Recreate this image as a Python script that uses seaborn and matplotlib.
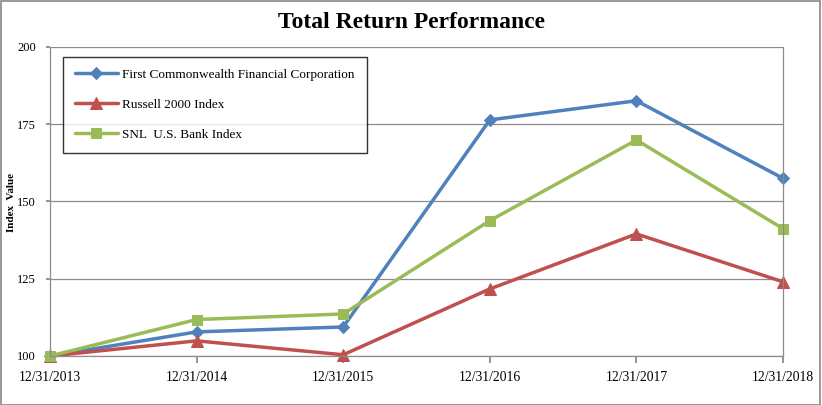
import matplotlib
matplotlib.use("Agg")
import matplotlib.pyplot as plt
import seaborn as sns
import pandas as pd
from matplotlib.patches import Rectangle

dates = ["12/31/2013", "12/31/2014", "12/31/2015", "12/31/2016", "12/31/2017", "12/31/2018"]
fcf = [100.0, 107.8, 109.4, 176.4, 182.6, 157.5]
russell = [100.0, 104.9, 100.4, 121.7, 139.5, 124.0]
snl = [100.0, 111.8, 113.6, 143.8, 169.9, 141.2]
series_names = ["First Commonwealth Financial Corporation", "Russell 2000 Index", "SNL  U.S. Bank Index"]
colors = ["#4F81BD", "#C0504D", "#9BBB59"]
markers = ["D", "^", "s"]
msizes = [6, 8, 7]
yticks = [100, 125, 150, 175, 200]

sns.set_theme(style="white")
plt.rcParams["font.family"] = ["Liberation Serif", "DejaVu Serif"]
plt.rcParams["text.color"] = "black"
plt.rcParams["xtick.color"] = "black"
plt.rcParams["ytick.color"] = "black"
plt.rcParams["axes.labelcolor"] = "black"

rows = []
for name, vals in zip(series_names, [fcf, russell, snl]):
    for i, v in enumerate(vals):
        rows.append({"x": i, "value": v, "series": name})
df = pd.DataFrame(rows)

fig = plt.figure(figsize=(8.22, 4.05), dpi=100)
fig.patch.set_facecolor("white")
fig.add_artist(Rectangle((0.001, 0.001), 0.997, 0.996, transform=fig.transFigure,
                         fill=False, edgecolor="#888888", linewidth=1.2))
ax = fig.add_axes([0.0608, 0.121, 0.8918, 0.763])

for name, c, m, ms in zip(series_names, colors, markers, msizes):
    sub = df[df["series"] == name]
    sns.lineplot(data=sub, x="x", y="value", ax=ax, color=c, marker=m, markersize=ms,
                 markeredgecolor=c, linewidth=2.5, label=name, legend=False)

ax.set_xlim(0, 5)
ax.set_ylim(100, 200)
ax.set_yticks(yticks)
ax.set_yticklabels([str(t) for t in yticks], fontsize=9)
ax.set_xticks(range(len(dates)))
ax.set_xticklabels(dates, fontsize=9.8)
ax.tick_params(axis="x", direction="out", length=5, color="#888888", pad=6, bottom=True)
ax.tick_params(axis="y", direction="out", length=3, color="#888888", pad=7, left=True)
ax.grid(axis="y", color="#8c8c8c", linewidth=0.9)
ax.set_axisbelow(True)
for s in ["left", "bottom", "right", "top"]:
    ax.spines[s].set_color("#8c8c8c")
    ax.spines[s].set_linewidth(0.9)
ax.spines["top"].set_visible(False)
for line in ax.get_lines():
    line.set_clip_on(False)

ax.set_xlabel("")
ax.set_ylabel("")
fig.text(12 / 822, 0.5, "Index  Value", rotation=90, ha="center", va="center",
         fontsize=8, fontweight="bold")
fig.text(0.5, 0.945, "Total Return Performance", ha="center", va="center",
         fontsize=17, fontweight="bold")

leg = ax.legend(loc="upper left", bbox_to_anchor=(0.0175, 0.968), frameon=True,
                fontsize=9.5, labelspacing=1.35, handlelength=3.3, borderpad=0.9,
                borderaxespad=0, fancybox=False, handletextpad=0.3)
leg.get_frame().set_edgecolor("black")
leg.get_frame().set_linewidth(1.0)

fig.canvas.draw()
leg.get_frame().set_width(302)

fig.savefig("out.png", dpi=100)
